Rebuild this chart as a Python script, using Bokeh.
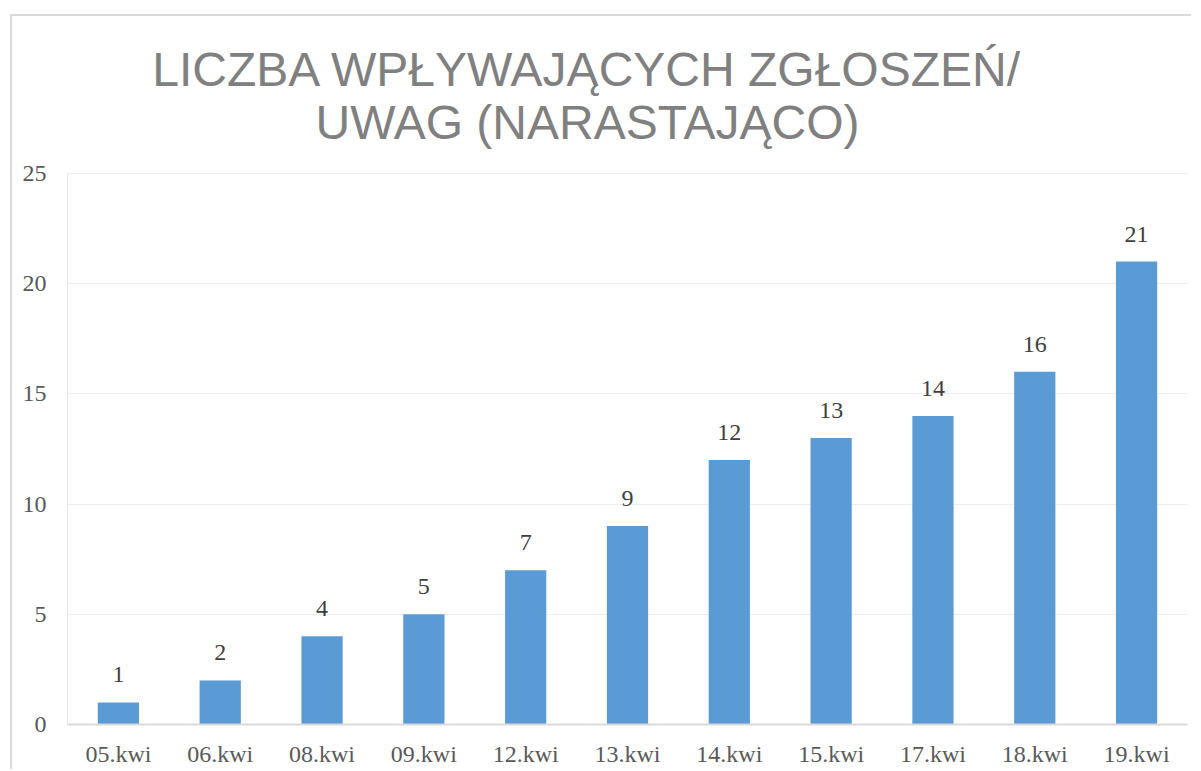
from bokeh.plotting import figure
from bokeh.models import ColumnDataSource, LabelSet, Label, FixedTicker, Range1d, FactorRange
from bokeh.embed import file_html
from bokeh.resources import INLINE

# ---- data ----
categories = ["05.kwi", "06.kwi", "08.kwi", "09.kwi", "12.kwi", "13.kwi",
              "14.kwi", "15.kwi", "17.kwi", "18.kwi", "19.kwi"]
values = [1, 2, 4, 5, 7, 9, 12, 13, 14, 16, 21]
y_ticks = [0, 5, 10, 15, 20, 25]
title_lines = ["LICZBA WPŁYWAJĄCYCH ZGŁOSZEŃ/", "UWAG (NARASTAJĄCO)"]

# ---- styles ----
BAR = "#5B9BD5"
TICK_COLOR = "#595959"
LABEL_COLOR = "#404040"
TITLE_COLOR = "#808080"
SERIF = "Liberation Serif"
SANS = "Liberation Sans"
FS = "24px"

W, H = 1181, 755
Y_END = 32.12

src = ColumnDataSource(dict(cat=categories, val=values,
                            label=[str(v) for v in values]))

p = figure(
    x_range=FactorRange(factors=categories, range_padding=0),
    y_range=Range1d(0, Y_END),
    width=W, height=H,
    output_backend="svg", toolbar_location=None,
    min_border_left=55, min_border_right=6, min_border_top=0, min_border_bottom=47,
)
p.margin = (16, 0, 0, 12)
p.styles = {"box-shadow": "-2px -2px 0 0 #d9d9d9"}
p.outline_line_color = None
p.background_fill_color = "white"
p.border_fill_color = "white"

p.vbar(x="cat", top="val", width=0.405, source=src, color=BAR, line_color=None)

# value labels
p.add_layout(LabelSet(x="cat", y="val", text="label", source=src, y_offset=20,
                      text_align="center", text_baseline="alphabetic",
                      text_font=SERIF, text_font_size=FS, text_color=LABEL_COLOR))

# title (two lines)
for txt, yy in zip(title_lines, [29.70, 27.30]):
    p.add_layout(Label(x=5.107, y=yy, text=txt, text_align="center",
                       text_baseline="alphabetic", text_font=SANS,
                       text_font_size="48px", text_color=TITLE_COLOR))

# grid
p.xgrid.grid_line_color = None
p.ygrid.grid_line_color = "#eeeeee"
p.ygrid.grid_line_width = 1
p.ygrid.bounds = (0, 25)
p.ygrid.ticker = FixedTicker(ticks=y_ticks)

# y axis
p.yaxis.ticker = FixedTicker(ticks=y_ticks)
p.yaxis.bounds = (0, 25)
p.yaxis.axis_line_color = "#e6e6e6"
p.yaxis.major_tick_line_color = None
p.yaxis.minor_tick_line_color = None
p.yaxis.major_label_standoff = 15
p.yaxis.major_label_text_font = SERIF
p.yaxis.major_label_text_font_size = FS
p.yaxis.major_label_text_color = TICK_COLOR

# x axis
p.xaxis.axis_line_color = "#d9d9d9"
p.xaxis.axis_line_width = 2
p.xaxis.major_tick_line_color = None
p.xaxis.minor_tick_line_color = None
p.xaxis.major_label_standoff = 10
p.xaxis.major_label_text_font = SERIF
p.xaxis.major_label_text_font_size = FS
p.xaxis.major_label_text_color = TICK_COLOR

open("out.html", "w").write(file_html(p, INLINE))
